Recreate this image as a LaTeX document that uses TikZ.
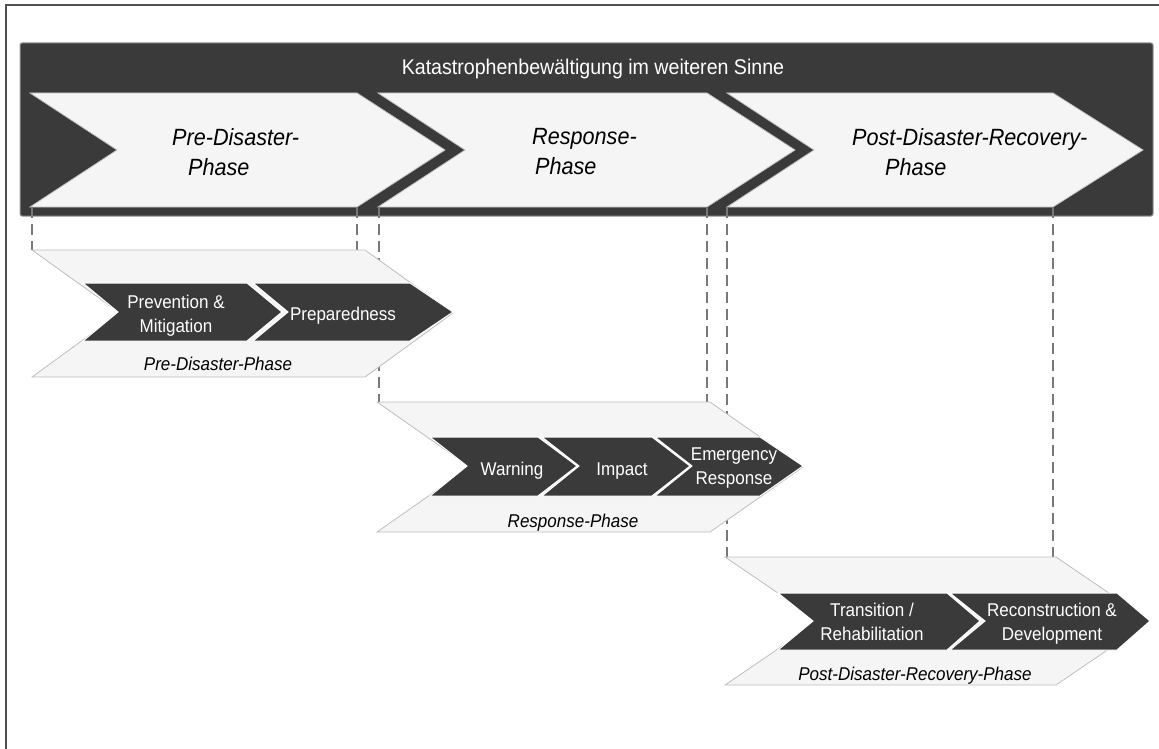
\documentclass[tikz,border=0pt]{standalone}
\usepackage{fontspec}
\setmainfont{Liberation Sans}[FakeStretch=0.92]

\begin{document}
\begin{tikzpicture}[x=1pt, y=-1pt,
  bandbox/.style={fill=dark_fill, draw=band_edge, line width=1pt, rounded corners=2pt},
  phasebox/.style={fill=light_fill, draw=edge_gray, line width=0.8pt},
  stepbox/.style={fill=dark_fill, draw=white, line width=1pt},
  guideline/.style={draw=guide_gray, line width=2.8pt, dash pattern=on 11pt off 6pt},
  titletext/.style={text=white, inner sep=0pt, font=\fontsize{21.3}{26}\selectfont},
  phasetext/.style={inner sep=0pt, align=left, font=\fontsize{23.5}{30}\selectfont\itshape},
  steptext/.style={text=white, inner sep=0pt, align=center, font=\fontsize{18.5}{24}\selectfont},
  sublabel/.style={inner sep=0pt, font=\fontsize{18.5}{24}\selectfont\itshape}]
\definecolor{dark_fill}{RGB}{58,58,58}
\definecolor{light_fill}{RGB}{245,245,245}
\definecolor{edge_gray}{RGB}{190,190,190}
\definecolor{band_edge}{RGB}{150,150,150}
\definecolor{guide_gray}{RGB}{120,120,120}
\definecolor{frame_gray}{RGB}{80,80,80}

\useasboundingbox (0,0) rectangle (1159,749);
\draw[frame_gray, line width=2pt] (6,749) -- (6,5) -- (1159,5);

% outer band
\draw[bandbox] (20,43) rectangle (1153,216);
\node[titletext, anchor=base] (title) at (593,75) {Katastrophenbewältigung im weiteren Sinne};

% the three phases
\draw[phasebox] (30,93) -- (357,93) -- (445,150) -- (357,207) -- (30,207) -- (117,150) -- cycle;
\draw[phasebox] (378,93) -- (707,93) -- (795,150) -- (707,207) -- (378,207) -- (465,150) -- cycle;
\draw[phasebox] (727,93) -- (1053,93) -- (1143,150) -- (1053,207) -- (727,207) -- (814,150) -- cycle;

\node[phasetext, anchor=north west] (prehead) at (172,128) {Pre-Disaster-\\\hspace*{16pt}Phase};
\node[phasetext, anchor=north west] (resphead) at (532,128) {Response-\\\hspace*{3pt}Phase};
\node[phasetext, anchor=north west] (posthead) at (852,128) {Post-Disaster-Recovery-\\\hspace*{33pt}Phase};

% dashed guides
\foreach \x/\yb [count=\i] in {32/250, 357/250, 379/402, 707/402, 727/557, 1053/557} {
  \coordinate (g\i top) at (\x,207);
  \coordinate (g\i bot) at (\x,\yb);
  \draw[guideline] (g\i top) -- (g\i bot);
}

% pre-disaster
\draw[phasebox] (32,250) -- (365,250) -- (453,313) -- (365,377) -- (32,377) -- (120,313) -- cycle;
\draw[stepbox] (83,283) -- (247,283) -- (282,312) -- (247,341) -- (83,341) -- (118,312) -- cycle;
\draw[stepbox] (253,283) -- (410,283) -- (453,312) -- (410,341) -- (253,341) -- (288,312) -- cycle;
\node[steptext] (prevention) at (176,315.5) {Prevention \&\\Mitigation};
\node[steptext, anchor=base] (preparedness) at (343,320) {Preparedness};
\node[sublabel, anchor=base] (prelabel) at (218,370) {Pre-Disaster-Phase};

% response
\draw[phasebox] (377,402) -- (710,402) -- (803,467) -- (710,532) -- (377,532) -- (470,467) -- cycle;
\draw[stepbox] (430,437) -- (538,437) -- (577,466) -- (538,496) -- (430,496) -- (467,466) -- cycle;
\draw[stepbox] (542,437) -- (652,437) -- (690,466) -- (652,496) -- (542,496) -- (579,466) -- cycle;
\draw[stepbox] (655,437) -- (760,437) -- (803,466) -- (760,496) -- (655,496) -- (692,466) -- cycle;
\node[steptext, anchor=base] (warning) at (512,475) {Warning};
\node[steptext, anchor=base] (impact) at (622,475) {Impact};
\node[steptext] (emergency) at (734,468) {Emergency\\Response};
\node[sublabel, anchor=base] (resplabel) at (573,527) {Response-Phase};

% post-disaster
\draw[phasebox] (725,557) -- (1056,557) -- (1150,621) -- (1056,685) -- (725,685) -- (819,621) -- cycle;
\draw[stepbox] (778,593) -- (947,593) -- (980,621) -- (947,650) -- (778,650) -- (813,621) -- cycle;
\draw[stepbox] (950,593) -- (1117,593) -- (1150,621) -- (1117,650) -- (950,650) -- (985,621) -- cycle;
\node[steptext] (transition) at (872,621.5) {Transition /\\Rehabilitation};
\node[steptext] (reconstruction) at (1052,623.5) {Reconstruction \&\\Development};
\node[sublabel, anchor=base] (postlabel) at (915,680) {Post-Disaster-Recovery-Phase};

\end{tikzpicture}
\end{document}
